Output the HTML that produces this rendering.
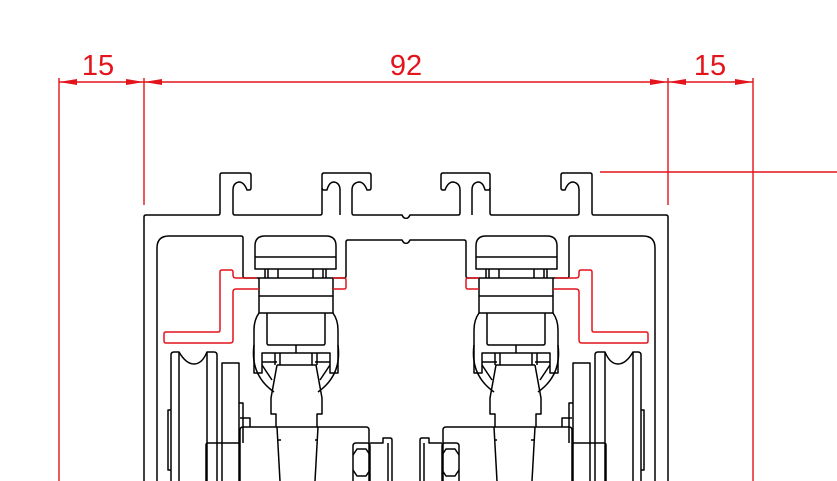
<!DOCTYPE html>
<html><head><meta charset="utf-8"><style>
html,body{margin:0;padding:0;background:#fff;width:837px;height:481px;overflow:hidden}
svg{display:block}
</style></head><body>
<svg width="837" height="481" viewBox="0 0 837 481" xmlns="http://www.w3.org/2000/svg">
<defs>
<g id="half" fill="none" stroke="#000" stroke-width="1.5" stroke-linejoin="round">
  <path d="M144,481 V217 Q144,215 146,215 H218 Q220,215 220,213 V175 Q220,173 222,173 H249 Q251,173 251,175 V188 Q251,190 249,190 H247 Q244,182 239,182 Q233,183 233,190 V213 Q233,215 235,215 H320 Q322,215 322,213 V175 Q322,173 324,173 H369 Q371,173 371,175 V188 Q371,190 369,190 H367 Q364,182 359,182 Q352,183 352,190 V213 Q352,215 354,215 H402 Q404,219 406,218"/>
  <path d="M340,215 V190 Q340,183 334,182 Q329,182 327,190 H324 Q322,190 322,188"/>
  <path d="M157,481 V248 Q157,236 169,236 H241 Q243,236 243,238 V276 Q243,278 245,278 H259"/>
  <path d="M333,278 H344 Q346,278 346,276 V242 Q346,240 348,240 H402 Q404,244 406,243"/>
  <path d="M255,269 V246 Q255,236 265,236 H326 Q336,236 336,246 V269 Z"/>
  <line x1="255" y1="257" x2="336" y2="257"/>
  <path d="M265,269 V278 M268,269 V278 M278,269 V278 M313,269 V278 M323,269 V278 M326,269 V278"/>
  <rect x="259" y="278" width="74" height="35"/>
  <line x1="259" y1="296" x2="333" y2="296"/>
  <path d="M259,313 Q254,320 254,330 V373 H262 V353 H330 V373 H338 V330 Q338,320 333,313"/>
  <path d="M267,313 V343 Q267,345 269,345 H323 Q325,345 325,343 V313"/>
  <line x1="296" y1="345" x2="296" y2="353"/>
  <path d="M262,362 H277 M315,362 H330 M275,353 V365 M280,353 V365 M312,353 V365 M317,353 V365"/>
  <path d="M254,345 Q250,375 274,392 M338,345 Q342,375 318,392"/>
  <path d="M262,365 L272,380 M330,365 L320,380"/>
  <path d="M277,365 H316 L322,398 V414 H317 V427 M277,365 L271,398 V414 H276 V427"/>
  <path d="M171,481 V355 Q171,352 174,352 H179 Q186,364 194,364 Q202,364 207,352 H214 Q217,352 217,355 V481"/>
  <path d="M179,352 V481 M207,352 V481"/>
  <path d="M171,410 H168 V470 H171"/>
  <path d="M222,481 V363 H239 V481"/>
  <path d="M239,403 H243 V443"/>
  <path d="M240,481 V430 Q240,427 243,427 H366 Q369,427 369,430 V481"/>
  <path d="M240,418 H250 V427"/>
  <path d="M277,427 L280,481 M318,427 L315,481 M278,440 H281 M315,440 H318"/>
  <path d="M206,481 V445 Q206,443 208,443 H240"/>
  <path d="M353,481 V446 Q353,443 356,443 H367 Q370,443 370,446 V481"/>
  <path d="M353,455 L357,449 H366 L370,455 M353,470 L357,476 H366 L370,470"/>
  <path d="M370,443 H383 V438 H390 Q392,438 392,440 V481 M388,443 V481"/>
</g>
<g id="redhalf" fill="none" stroke="#e3141b" stroke-width="1.5" stroke-linejoin="round">
  <path d="M257,278 H236 Q233,278 233,275 V272 Q233,270 231,270 H222 Q220,270 220,272 V330 Q220,332 218,332 H166 Q164,332 164,334 V341 Q164,343 166,343 H230 Q233,343 233,340 V292 Q233,289 236,289 H259"/>
  <path d="M333,278 H344 Q346,278 346,280 V287 Q346,289 344,289 H333"/>
</g>
</defs>
<use href="#half"/>
<use href="#half" transform="matrix(-1,0,0,1,812,0)"/>
<use href="#redhalf"/>
<use href="#redhalf" transform="matrix(-1,0,0,1,812,0)"/>
<g fill="none" stroke="#e3141b" stroke-width="1.4">
  <line x1="59" y1="78" x2="59" y2="481"/>
  <line x1="753" y1="78" x2="753" y2="481"/>
  <line x1="144" y1="78" x2="144" y2="205"/>
  <line x1="668" y1="78" x2="668" y2="205"/>
  <line x1="59" y1="82" x2="753" y2="82"/>
  <line x1="600" y1="172" x2="837" y2="172"/>
</g>
<g fill="#e3141b">
  <polygon points="59,82 77,79 77,85"/>
  <polygon points="144,82 126,79 126,85"/>
  <polygon points="144,82 162,79 162,85"/>
  <polygon points="668,82 650,79 650,85"/>
  <polygon points="668,82 686,79 686,85"/>
  <polygon points="753,82 735,79 735,85"/>
</g>
<g fill="#e3141b" font-family="Liberation Sans, sans-serif" font-size="29" text-anchor="middle">
  <text x="98" y="75">15</text>
  <text x="406" y="75">92</text>
  <text x="710" y="75">15</text>
</g>
</svg>
</body></html>
